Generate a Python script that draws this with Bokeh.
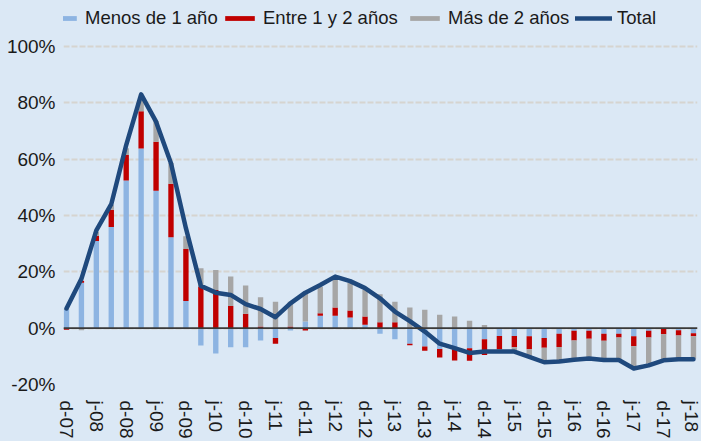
from bokeh.plotting import figure
from bokeh.models import (ColumnDataSource, Range1d, FixedTicker, Legend, LegendItem,
                          Span, PrintfTickFormatter)
from bokeh.embed import file_html
from bokeh.resources import INLINE
from jinja2 import Template

# ---- data (quarterly, d-07 .. j-18), % ----
tick_labels = ["d-07", "j-08", "d-08", "j-09", "d-09", "j-10", "d-10", "j-11", "d-11",
               "j-12", "d-12", "j-13", "d-13", "j-14", "d-14", "j-15", "d-15", "j-16",
               "d-16", "j-17", "d-17", "j-18"]

menos_1 = [6.4, 16.1, 30.9, 35.9, 52.4, 63.8, 48.8, 32.3, 9.6, -6.2,
           -9.0, -6.8, -6.8, -4.4, -3.5, -0.8, 2.4, 4.4, 4.4, 3.8,
           1.2, -2.0, -3.9, -5.5, -6.5, -7.4, -6.7, -7.1, -3.9, -2.8,
           -2.8, -2.9, -3.5, -2.0, -0.9, -0.9, -2.0, -2.0, -2.9, -0.9,
           0.0, -0.7, -1.8]
entre_1_2 = [-0.6, 0.7, 1.8, 6.1, 9.1, 13.2, 17.4, 19.0, 18.5, 14.8,
             13.5, 7.9, 5.1, 0.6, -2.0, 0.6, -0.8, 0.9, 2.9, 2.5,
             2.9, 2.1, 2.1, -0.6, -1.5, -3.0, -4.8, -4.5, -5.6, -4.6,
             -4.0, -4.6, -3.5, -4.7, -3.5, -2.9, -2.5, -1.3, -3.5, -2.4,
             -2.2, -1.9, -1.1]
mas_2 = [0.3, -0.7, 1.5, 1.8, 2.4, 5.0, 7.3, 7.3, 4.5, 6.5,
         7.1, 10.4, 10.0, 10.4, 9.4, 8.8, 10.5, 9.4, 10.4, 9.9,
         9.4, 9.9, 7.3, 7.3, 6.5, 4.8, 4.1, 2.6, 1.1, -0.8,
         -1.4, -3.0, -4.7, -5.1, -6.7, -6.7, -6.7, -7.9, -7.3, -9.3,
         -8.8, -8.2, -8.0]
total = [7.0, 17.5, 34.7, 44.0, 65.0, 83.0, 73.3, 58.5, 35.5, 15.0,
         12.6, 11.8, 8.5, 6.8, 3.9, 8.8, 12.6, 15.3, 18.3, 16.7,
         14.2, 10.6, 5.9, 2.5, -1.2, -5.5, -7.1, -8.8, -8.3, -8.3,
         -8.3, -10.2, -12.1, -11.8, -11.2, -10.8, -11.3, -11.3, -14.3, -13.2,
         -11.4, -11.0, -11.0]

series_names = ["Menos de 1 año", "Entre 1 y 2 años", "Más de 2 años"]
series_vals = [menos_1, entre_1_2, mas_2]
colors = ["#8db4e2", "#c00000", "#a6a6a6"]
line_color = "#1f497d"
bg = "#dbe8f5"

n = len(total)
x = list(range(n))

# stacked with positives up and negatives down separately
pos = [0.0] * n
neg = [0.0] * n
sources = []
for vals in series_vals:
    bottoms, tops = [], []
    for i, v in enumerate(vals):
        if v >= 0:
            bottoms.append(pos[i]); tops.append(pos[i] + v); pos[i] += v
        else:
            tops.append(neg[i]); bottoms.append(neg[i] + v); neg[i] += v
    sources.append(ColumnDataSource(dict(x=x, bottom=bottoms, top=tops)))

p = figure(width=701, height=441, output_backend="svg", toolbar_location=None,
           x_range=Range1d(-0.2, 42.27), y_range=Range1d(-20, 116.3),
           min_border_left=63, min_border_right=4, min_border_top=0, min_border_bottom=56,
           background_fill_color=bg, border_fill_color=bg, outline_line_color=None)

renderers = []
for src, c in zip(sources, colors):
    r = p.vbar(x="x", bottom="bottom", top="top", width=0.36, source=src,
               fill_color=c, line_color=None)
    renderers.append(r)

zero = Span(location=0, dimension="width", line_color="#3a3a3a", line_width=1.6)
p.add_layout(zero)

lr = p.line(x, total, line_color=line_color, line_width=4.5, line_join="round",
            line_cap="round")

# axes
font = "Liberation Sans"
p.yaxis.ticker = FixedTicker(ticks=[-20, 0, 20, 40, 60, 80, 100])
p.yaxis.formatter = PrintfTickFormatter(format="%d%%")
p.xaxis.ticker = FixedTicker(ticks=list(range(0, n, 2)))
p.xaxis.major_label_overrides = {i * 2: lab for i, lab in enumerate(tick_labels)}
p.xaxis.major_label_orientation = "vertical"
for ax in (p.xaxis, p.yaxis):
    ax.axis_line_color = None
    ax.major_tick_line_color = None
    ax.minor_tick_line_color = None
    ax.major_label_text_font = font
    ax.major_label_text_font_size = "19px"
    ax.major_label_text_color = "#1a1a1a"
p.yaxis.major_label_standoff = 2
p.xaxis.major_label_standoff = 10

p.xgrid.grid_line_color = None
p.ygrid.grid_line_color = "#d6d4d0"
p.ygrid.grid_line_width = 2
p.ygrid.grid_line_dash = "6 2"

# one legend per item so each sits where the reference puts it
all_renderers = renderers + [lr]
all_names = series_names + ["Total"]
legend_x = [-20, 158, 343, 512]
for nm, r, lx in zip(all_names, all_renderers, legend_x):
    lg = Legend(items=[LegendItem(label=nm, renderers=[r])], orientation="horizontal",
                location=(lx, 355),
                glyph_width=37, glyph_height=6, label_standoff=5, spacing=0,
                padding=0, margin=0, label_height=20,
                label_text_font=font, label_text_font_size="18.5px",
                label_text_color="#1a1a1a",
                background_fill_alpha=0, border_line_color=None)
    p.add_layout(lg, "center")

tpl = Template("""{% extends base %}
{% block preamble %}<style>html, body { background: #dbe8f5; }</style>{% endblock %}""")

open("out.html", "w").write(file_html(p, INLINE, template=tpl))
